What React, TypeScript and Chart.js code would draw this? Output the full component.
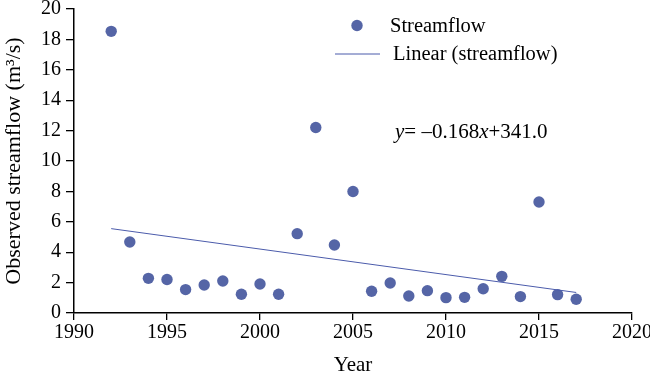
import React, { useEffect, useRef } from "react";
import { Chart, registerables } from "chart.js";

Chart.register(...registerables);

const years = [1992, 1993, 1994, 1995, 1996, 1997, 1998, 1999, 2000, 2001, 2002, 2003, 2004, 2005, 2006, 2007, 2008, 2009, 2010, 2011, 2012, 2013, 2014, 2015, 2016, 2017];
const streamflow = [18.53, 4.67, 2.28, 2.2, 1.54, 1.84, 2.11, 1.23, 1.91, 1.23, 5.22, 12.2, 4.47, 7.99, 1.43, 1.97, 1.12, 1.47, 1.01, 1.03, 1.6, 2.41, 1.08, 7.3, 1.21, 0.9];
const trendYears = [1992, 2017];
const trendValues = [5.55, 1.35];

const xMin = 1990;
const xMax = 2020;
const xStep = 5;
const yMin = 0;
const yMax = 20;
const yStep = 2;

const seriesLabels = ["Streamflow", "Linear (streamflow)"];
const equationParts = [
  { text: "y", italic: true },
  { text: "= \u20130.168", italic: false },
  { text: "x", italic: true },
  { text: "+341.0", italic: false },
];
const xTitle = "Year";
const yTitle = "Observed streamflow (m\u00b3/s)";

const FONT = "'Liberation Serif', 'Times New Roman', serif";
const DOT = "#5565a6";
const LINE = "#4b5bab";

const overlayPlugin = {
  id: "overlay",
  afterDraw(chart: any) {
    const ctx = chart.ctx;
    const area = chart.chartArea;
    ctx.save();
    const lx = area.left + 283;
    const ly1 = area.top + 16.5;
    const ly2 = area.top + 44.5;
    ctx.fillStyle = DOT;
    ctx.beginPath();
    ctx.arc(lx, ly1, 5.7, 0, Math.PI * 2);
    ctx.fill();
    ctx.strokeStyle = LINE;
    ctx.lineWidth = 1;
    ctx.beginPath();
    ctx.moveTo(lx - 22, ly2 + 0.5);
    ctx.lineTo(lx + 23, ly2 + 0.5);
    ctx.stroke();
    ctx.fillStyle = "#000";
    ctx.font = `20.5px ${FONT}`;
    ctx.textBaseline = "middle";
    ctx.textAlign = "left";
    ctx.fillText(seriesLabels[0], lx + 33, ly1 + 1);
    ctx.fillText(seriesLabels[1], lx + 36, ly2 + 1);
    let ex = area.left + 321;
    const ey = area.top + 128.5;
    ctx.textBaseline = "alphabetic";
    for (const p of equationParts) {
      ctx.font = `${p.italic ? "italic " : ""}21px ${FONT}`;
      ctx.fillText(p.text, ex, ey);
      ex += ctx.measureText(p.text).width;
    }
    ctx.restore();
  },
};

export default function App() {
  const ref = useRef<HTMLCanvasElement | null>(null);
  useEffect(() => {
    document.body.style.margin = "0";
    const canvas = ref.current;
    if (!canvas) return;
    const chart = new Chart(canvas, {
      type: "scatter",
      data: {
        datasets: [
          {
            label: seriesLabels[0],
            data: years.map((y, i) => ({ x: y, y: streamflow[i] })),
            backgroundColor: DOT,
            borderWidth: 0,
            pointRadius: 5.7,
            order: 2,
          },
          {
            type: "line",
            label: seriesLabels[1],
            data: trendYears.map((y, i) => ({ x: y, y: trendValues[i] })),
            borderColor: LINE,
            borderWidth: 1,
            pointRadius: 0,
            showLine: true,
            fill: false,
            order: 1,
          } as any,
        ],
      },
      options: {
        responsive: false,
        animation: false,
        devicePixelRatio: 1,
        layout: { padding: { top: 9, right: 18, left: 0, bottom: 0 } },
        plugins: { legend: { display: false }, tooltip: { enabled: false } },
        scales: {
          x: {
            type: "linear",
            min: xMin,
            max: xMax,
            ticks: {
              stepSize: xStep,
              color: "#000",
              font: { family: FONT, size: 20 },
              padding: 1,
              callback: (v: any) => String(v),
              maxRotation: 0,
            },
            grid: { drawOnChartArea: false, drawTicks: true, tickLength: 7, color: "#000", lineWidth: 1.3 },
            border: { display: true, color: "#000", width: 1.5 },
            title: { display: true, text: xTitle, color: "#000", font: { family: FONT, size: 21 }, padding: { top: 0, bottom: -3 } },
            afterFit: (s: any) => { s.height = 62; s.paddingLeft = 0; s.paddingRight = 0; },
          },
          y: {
            type: "linear",
            min: yMin,
            max: yMax,
            ticks: {
              stepSize: yStep,
              color: "#000",
              font: { family: FONT, size: 20 },
              padding: 5,
              callback: (v: any) => String(v),
            },
            grid: { drawOnChartArea: false, drawTicks: true, tickLength: 8, color: "#000", lineWidth: 1.3 },
            border: { display: true, color: "#000", width: 1.5 },
            title: { display: true, text: yTitle, color: "#000", font: { family: FONT, size: 22 }, padding: { top: 1, bottom: 0 } },
            afterFit: (s: any) => { s.width = 74; s.paddingTop = 0; s.paddingBottom = 0; },
          },
        },
      },
      plugins: [overlayPlugin],
    });
    return () => chart.destroy();
  }, []);
  return <canvas ref={ref} width={650} height={375} style={{ display: "block", width: 650, height: 375 }} />;
}
